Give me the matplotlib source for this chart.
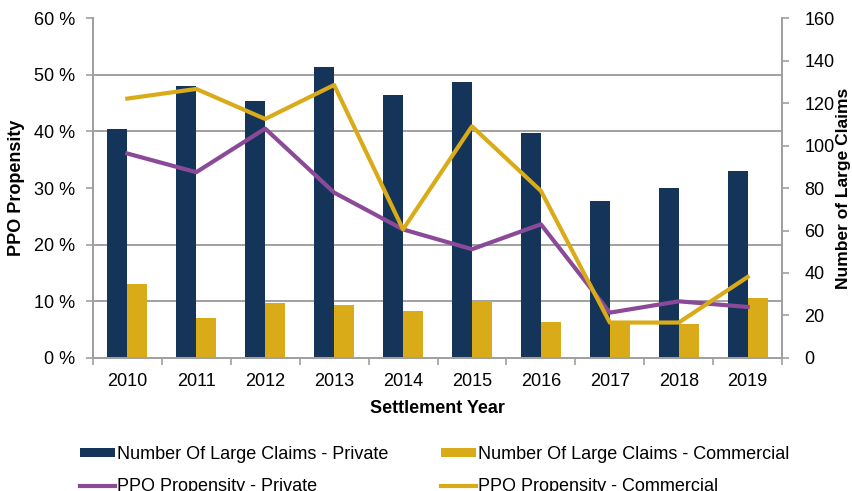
import matplotlib.pyplot as plt
import numpy as np
from matplotlib.ticker import FixedLocator, FuncFormatter

plt.rcParams["font.family"] = ["Liberation Sans", "DejaVu Sans"]

years = ["2010", "2011", "2012", "2013", "2014", "2015", "2016", "2017", "2018", "2019"]
claims_private = [108, 128, 121, 137, 124, 130, 106, 74, 80, 88]
claims_commercial = [34.7, 18.6, 25.9, 24.7, 21.9, 26.7, 17.0, 17.0, 15.9, 28.0]
ppo_private = [36.1, 32.8, 40.5, 29.2, 22.7, 19.2, 23.6, 8.0, 10.0, 9.0]
ppo_commercial = [45.8, 47.5, 42.2, 48.2, 22.7, 40.9, 29.5, 6.25, 6.25, 14.3]

navy = "#143459"
gold = "#D9AB19"
purple = "#8B4A98"
grey = "#A0A0A0"
fs = 13

fig = plt.figure(figsize=(8.52, 4.91), dpi=100)
ax = fig.add_axes([0.109, 0.271, 0.809, 0.692])
axr = ax.twinx()
ax.set_zorder(2)
axr.set_zorder(1)
ax.patch.set_visible(False)

x = np.arange(len(years))
w = 0.29

# bars on the right (count) axis
axr.bar(x - w / 2, claims_private, w, color=navy, label="Number Of Large Claims - Private")
axr.bar(x + w / 2, claims_commercial, w, color=gold, label="Number Of Large Claims - Commercial")
axr.set_ylim(0, 160)
axr.set_yticks(range(0, 161, 20))
# grid at the left axis 10 % steps, drawn behind the bars
axr.yaxis.set_minor_locator(FixedLocator(np.linspace(0, 160, 7)))
axr.grid(True, which="minor", axis="y", color=grey, linewidth=1.4)
axr.set_axisbelow(True)
axr.tick_params(axis="y", which="minor", length=0)
axr.tick_params(axis="y", which="major", labelsize=fs, length=5, width=1.2, color=grey, pad=11)
axr.set_ylabel("Number of Large Claims", fontsize=12.5, fontweight="bold", labelpad=1)

# lines on the left (percent) axis
ax.plot(x, ppo_private, color=purple, linewidth=3, label="PPO Propensity - Private")
ax.plot(x, ppo_commercial, color=gold, linewidth=3, label="PPO Propensity - Commercial")
ax.set_ylim(0, 60)
ax.set_yticks(range(0, 61, 10))
ax.yaxis.set_major_formatter(FuncFormatter(lambda v, p: f"{v:.0f} %"))
ax.tick_params(axis="y", labelsize=fs, length=5, width=1.2, color=grey, pad=8)
ax.set_ylabel("PPO Propensity", fontsize=fs, fontweight="bold", labelpad=6)

ax.set_xlim(-0.5, len(years) - 0.5)
ax.set_xticks(np.arange(-0.5, len(years)), labels=[])
ax.set_xticks(x, labels=years, minor=True)
ax.tick_params(axis="x", which="major", length=5, width=1.2, color=grey)
ax.tick_params(axis="x", which="minor", length=0, labelsize=fs, pad=11)
ax.set_xlabel("Settlement Year", fontsize=fs, fontweight="bold", labelpad=7)

for a in (ax, axr):
    a.spines["top"].set_visible(False)
    for s in ("left", "right", "bottom"):
        a.spines[s].set_color(grey)
        a.spines[s].set_linewidth(1.4)

h1, l1 = axr.get_legend_handles_labels()
h2, l2 = ax.get_legend_handles_labels()
handles = [h1[0], h2[0], h1[1], h2[1]]
labels = [l1[0], l2[0], l1[1], l2[1]]
fig.legend(handles, labels, ncol=2, loc="upper left", bbox_to_anchor=(0.094, 0.092),
           frameon=False, fontsize=fs, handlelength=1.95, handleheight=0.45,
           handletextpad=0.1, columnspacing=2.9, labelspacing=0.85,
           borderpad=0, borderaxespad=0)

fig.savefig("out.png", dpi=100)
